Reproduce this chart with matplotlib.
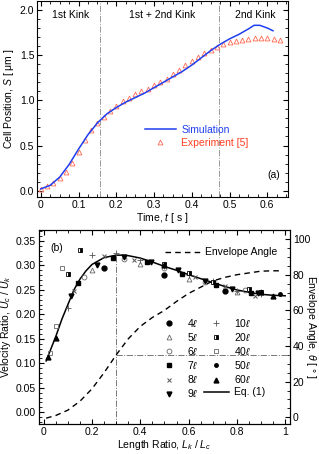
import matplotlib
matplotlib.use("Agg")
import matplotlib.pyplot as plt
from matplotlib.ticker import MultipleLocator

plt.rcParams['font.family'] = ['Liberation Sans', 'DejaVu Sans']
plt.rcParams['font.size'] = 7
plt.rcParams['mathtext.fontset'] = 'custom'
plt.rcParams['mathtext.it'] = 'Liberation Sans:italic'
plt.rcParams['mathtext.rm'] = 'Liberation Sans'

# ---- (a) cell position vs time
sim_t = [0, 0.025, 0.05, 0.075, 0.1, 0.125, 0.15, 0.175, 0.2, 0.225, 0.25, 0.275,
         0.3, 0.325, 0.35, 0.375, 0.4, 0.425, 0.45, 0.475, 0.5, 0.525, 0.55,
         0.565, 0.58, 0.6, 0.615]
sim_s = [0.02, 0.06, 0.15, 0.29, 0.46, 0.62, 0.75, 0.85, 0.92, 0.98, 1.03, 1.08,
         1.14, 1.20, 1.26, 1.32, 1.39, 1.47, 1.55, 1.62, 1.68, 1.73, 1.79,
         1.83, 1.83, 1.80, 1.77]

exp_t = [k / 60 for k in range(39)]
exp_s = [0.02, 0.05, 0.08, 0.14, 0.21, 0.31, 0.43, 0.56, 0.67, 0.75, 0.82, 0.88,
         0.94, 0.99, 1.03, 1.07, 1.10, 1.13, 1.17, 1.20, 1.24, 1.29, 1.34, 1.39,
         1.44, 1.48, 1.52, 1.56, 1.59, 1.62, 1.64, 1.66, 1.67, 1.68, 1.69, 1.69,
         1.69, 1.68, 1.67]

kink_t = [0.157, 0.473]
region_labels = ['1st Kink', '1st + 2nd Kink', '2nd Kink']
region_x = [0.078, 0.321, 0.567]

# ---- (b) velocity ratio vs length ratio
eq_x = [0.01, 0.03, 0.05, 0.075, 0.1, 0.125, 0.15, 0.175, 0.2, 0.25, 0.3, 0.325,
        0.35, 0.4, 0.45, 0.5, 0.55, 0.6, 0.65, 0.7, 0.75, 0.8, 0.85, 0.9, 0.95, 1.0]
eq_y = [0.105, 0.13, 0.155, 0.19, 0.22, 0.25, 0.272, 0.289, 0.302, 0.316, 0.321,
        0.321, 0.320, 0.315, 0.307, 0.298, 0.290, 0.281, 0.273, 0.265, 0.257,
        0.250, 0.245, 0.241, 0.239, 0.238]

env_x = [0.01, 0.05, 0.1, 0.15, 0.2, 0.25, 0.3, 0.35, 0.4, 0.45, 0.5, 0.55, 0.6,
         0.65, 0.7, 0.75, 0.8, 0.85, 0.9, 0.95, 0.98]
env_a = [-0.5, 1, 4, 9, 16, 25, 35, 44, 51, 56, 60, 65, 69.5, 73, 76.5, 78.5,
         80, 81, 82, 82.2, 82.2]

peak_x = 0.3
peak_u = 0.321
peak_angle = 35

lengths = ['4', '5', '6', '7', '8', '9', '10', '20', '40', '50', '60']
data_x = {
    '4': [0.25, 0.5, 0.75],
    '5': [0.2, 0.4, 0.6, 0.8],
    '6': [0.167, 0.333, 0.5, 0.667, 0.833],
    '7': [0.143, 0.286, 0.429, 0.571, 0.714, 0.857],
    '8': [0.125, 0.25, 0.375, 0.5, 0.625, 0.75, 0.875],
    '9': [0.111, 0.222, 0.333, 0.444, 0.556, 0.667, 0.778, 0.889],
    '10': [0.1, 0.2, 0.3, 0.4, 0.5, 0.6, 0.7, 0.8, 0.9],
    '20': [0.1, 0.15, 0.5, 0.6, 0.7, 0.85, 0.9],
    '40': [0.025, 0.05, 0.075],
    '50': [0.98],
    '60': [0.017, 0.05, 0.5, 0.9, 0.95],
}
data_y = {
    '4': [0.295, 0.281, 0.248],
    '5': [0.290, 0.302, 0.273, 0.246],
    '6': [0.276, 0.313, 0.295, 0.266, 0.250],
    '7': [0.264, 0.315, 0.306, 0.282, 0.261, 0.244],
    '8': [0.248, 0.320, 0.312, 0.300, 0.277, 0.258, 0.238],
    '9': [0.238, 0.300, 0.318, 0.308, 0.290, 0.268, 0.252, 0.243],
    '10': [0.213, 0.322, 0.326, 0.312, 0.298, 0.280, 0.268, 0.248, 0.242],
    '20': [0.283, 0.331, 0.302, 0.284, 0.267, 0.252, 0.246],
    '40': [0.122, 0.176, 0.294],
    '50': [0.241],
    '60': [0.113, 0.151, 0.300, 0.245, 0.238],
}

# marker styles per series
styles = {
    '4': dict(marker='o', ms=3.5, mfc='k', mec='k'),
    '5': dict(marker='^', ms=3.5, mfc='none', mec='#666666', mew=0.6),
    '6': dict(marker='o', ms=3.5, mfc='none', mec='#666666', mew=0.6),
    '7': dict(marker='s', ms=3.5, mfc='k', mec='k'),
    '8': dict(marker='x', ms=3.5, mec='#555555', mew=0.7),
    '9': dict(marker='v', ms=3.5, mfc='k', mec='k'),
    '10': dict(marker='+', ms=4, mec='#555555', mew=0.6),
    '20': dict(marker='s', ms=3.5, mfc='k', mec='k', fillstyle='right',
               markerfacecoloralt='white', mew=0.6),
    '40': dict(marker='s', ms=3.5, mfc='none', mec='#666666', mew=0.6),
    '50': dict(marker='o', ms=2.5, mfc='k', mec='k'),
    '60': dict(marker='^', ms=3.5, mfc='k', mec='k'),
}

fig = plt.figure(figsize=(3.19, 4.54), dpi=100)

# ======================= panel (a)
ax1 = fig.add_axes([0.116, 0.566, 0.787, 0.432])
ax1.plot(sim_t, sim_s, color='#1f3ff0', lw=1.1, label='Simulation', zorder=3)
ax1.plot(exp_t, exp_s, ls='none', marker='^', ms=3.5, mfc='none',
         mec='#ff6a50', mew=0.6, label='Experiment [5]', zorder=2)
for t in kink_t:
    ax1.axvline(t, color='#999999', ls='-.', lw=0.7, zorder=1)
for x, s in zip(region_x, region_labels):
    ax1.text(x, 1.94, s, ha='center', va='center', fontsize=7.5)
ax1.text(0.616, 0.17, '(a)', ha='center', va='center', fontsize=7.5)

ax1.set_xlim(-0.01, 0.655)
ax1.set_ylim(-0.07, 2.1)
ax1.xaxis.set_minor_locator(MultipleLocator(0.025))
ax1.yaxis.set_minor_locator(MultipleLocator(0.1))
ax1.set_xticks([0, 0.1, 0.2, 0.3, 0.4, 0.5, 0.6])
ax1.set_xticklabels(['0', '0.1', '0.2', '0.3', '0.4', '0.5', '0.6'])
ax1.set_yticks([0, 0.5, 1.0, 1.5, 2.0])
ax1.set_yticklabels(['0.0', '0.5', '1.0', '1.5', '2.0'])
ax1.tick_params(which='both', direction='in', top=True, right=True, labelsize=7.5,
                pad=2)
ax1.tick_params(which='major', length=3.5)
ax1.tick_params(which='minor', length=2)
ax1.set_xlabel('Time, $t$ [ s ]', fontsize=7.5, labelpad=1)
ax1.set_ylabel('Cell Position, $S$ [ μm ]', fontsize=7.5, labelpad=3)

leg = ax1.legend(loc='center left', bbox_to_anchor=(0.4, 0.31), frameon=False,
                 fontsize=7.5, handlelength=3.0, handletextpad=0.5,
                 borderpad=0.2, labelspacing=0.3)
leg.get_texts()[0].set_color('#1f3ff0')
leg.get_texts()[1].set_color('#ff4020')

# ======================= panel (b)
ax2 = fig.add_axes([0.122, 0.066, 0.787, 0.427])
ax3 = ax2.twinx()

for key in lengths:
    ax2.plot(data_x[key], data_y[key], ls='none', label=key + r'$\ell$',
             zorder=3, **styles[key])
ax2.plot(eq_x, eq_y, color='k', lw=1.1, label='Eq. (1)', zorder=2)
ax2.plot([peak_x, peak_x], [-0.03, peak_u], color='#777777', ls='-.', lw=0.7,
         zorder=1)

ax3.plot(env_x, env_a, color='k', ls=(0, (4, 3)), lw=1.0, label='Envelope Angle')
ax3.plot([peak_x, 1.02], [peak_angle, peak_angle], color='#777777', ls='-.',
         lw=0.7)

ax2.text(0.055, 0.335, '(b)', ha='center', va='center', fontsize=7.5)

ax2.set_xlim(-0.02, 1.02)
ax2.set_ylim(-0.024, 0.372)
ax3.set_ylim(-3.8, 105)
ax2.xaxis.set_minor_locator(MultipleLocator(0.05))
ax2.yaxis.set_minor_locator(MultipleLocator(0.01))
ax3.yaxis.set_major_locator(MultipleLocator(20))
ax3.yaxis.set_minor_locator(MultipleLocator(5))
ax2.set_xticks([0, 0.2, 0.4, 0.6, 0.8, 1.0])
ax2.set_xticklabels(['0', '0.2', '0.4', '0.6', '0.8', '1'])
ax2.set_yticks([0, 0.05, 0.1, 0.15, 0.2, 0.25, 0.3, 0.35])
ax2.set_yticklabels(['0.00', '0.05', '0.10', '0.15', '0.20', '0.25', '0.30', '0.35'])
ax2.tick_params(which='both', direction='in', top=True, labelsize=7.5, pad=2)
ax3.tick_params(which='both', direction='in', labelsize=7.5, pad=2)
for a in (ax2, ax3):
    a.tick_params(which='major', length=3.5)
    a.tick_params(which='minor', length=2)
ax2.set_xlabel('Length Ratio, $L_k$ / $L_c$', fontsize=7.5, labelpad=1)
ax2.set_ylabel('Velocity Ratio, $U_c$ / $U_k$', fontsize=7.5, labelpad=2)
ax3.set_ylabel('Envelope Angle, $\\theta$ [ ° ]', fontsize=7.5, rotation=-90,
               va='center', ha='center')
ax3.yaxis.set_label_coords(1.083, 0.5)

h2, l2 = ax2.get_legend_handles_labels()
ax2.legend(h2, l2, ncol=2, loc='lower left', bbox_to_anchor=(0.44, 0.09),
           frameon=False, fontsize=7.5, handlelength=2.4, handletextpad=0.5,
           columnspacing=0.5, labelspacing=0.2, borderpad=0.2)
ax3.legend(loc='upper right', bbox_to_anchor=(0.98, 0.95), frameon=False,
           fontsize=7.5, handlelength=3.5, handletextpad=0.4, borderpad=0.2)

fig.savefig('out.png', dpi=100)
